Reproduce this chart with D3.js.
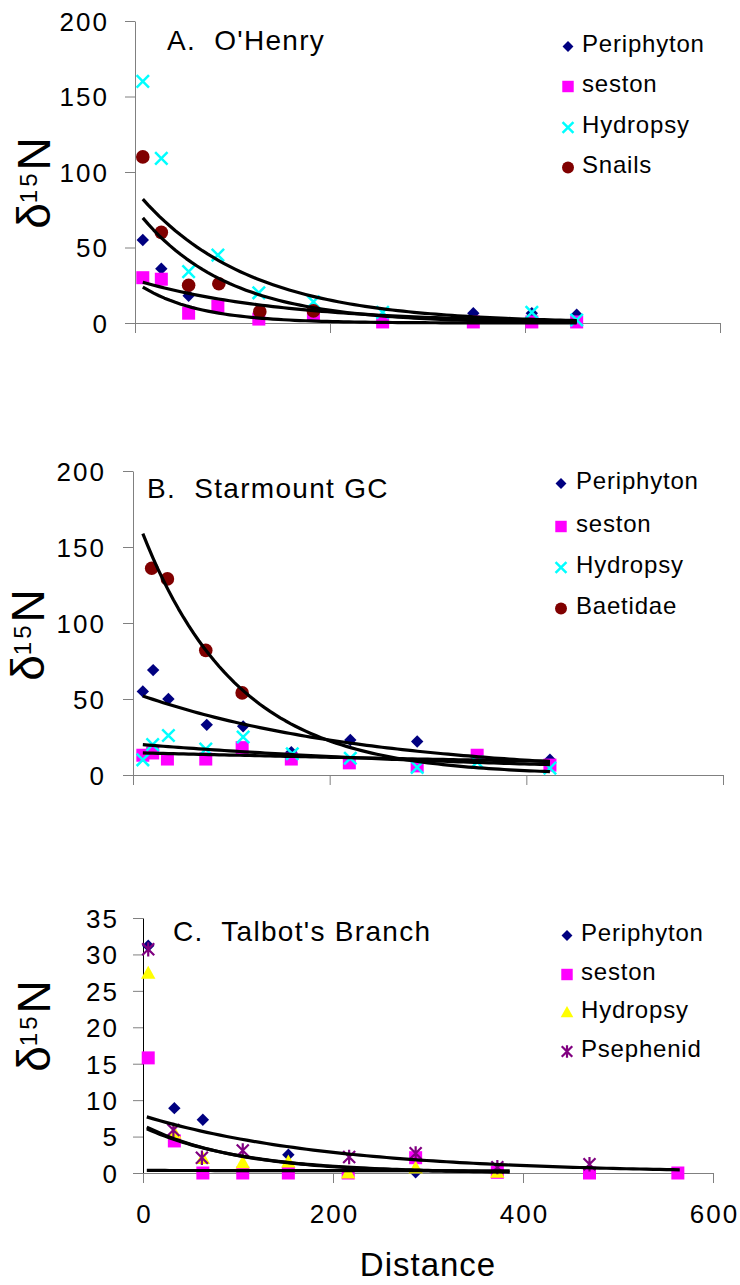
<!DOCTYPE html>
<html><head><meta charset="utf-8">
<script src="https://cdn.jsdelivr.net/npm/d3@7"></script>
<style>
body{margin:0;background:#fff}
svg{display:block}
text{font-family:"Liberation Sans",Arial,sans-serif;fill:#000}
</style>
</head><body>
<svg id="chart" width="740" height="1285"></svg>
<script>
// ---------- tick labels ----------
const distanceTicks = [0, 200, 400, 600];
const yTicksAB = [0, 50, 100, 150, 200];
const yTicksC = [0, 5, 10, 15, 20, 25, 30, 35];

// ---------- Panel A: O'Henry ----------
const periphytonA = [[8,55],[27,36],[55,18],[347,6.5],[407,6.5],[453,5.5]];
const sestonA     = [[8,30],[27,29],[55,6.5],[85,11],[127,2.6],[183,5.3],[254,0.7],[347,0.7],[407,0.7],[453,0.7]];
const hydropsyA   = [[8,160],[27,109],[55,34],[85,45],[127,20],[183,14],[254,7],[407,7],[453,2]];
const snailsA     = [[8,110],[27,60],[55,25],[86,26],[128,7.5],[183,8]];
// exponential trend lines: [a, b, fromX, toX]  (y = a*exp(-b*x))
const trendA = [[88,0.0088,8,453],[76,0.011,8,453],[28.5,0.0068,8,453],[27.2,0.0166,8,453]];

// ---------- Panel B: Starmount GC ----------
const periphytonB = [[10,55],[20.5,69],[36,50],[75,33],[112,32],[161,15],[221,23],[289,22],[424,10]];
const sestonB     = [[10,13],[20,14.5],[35,10.5],[74,10.5],[111,18],[161,10.5],[220,8],[289,6],[350,13],[424,6.5]];
const hydropsyB   = [[10,10],[20,20],[36,26],[74,17],[112,25],[162,14],[221,11],[289,5],[350,8.5],[424,4.5]];
const baetidaeB   = [[19,136],[35,129],[74,82],[111,54]];
const trendB = [[176,0.0103,10,424],[54.3,0.0043,10,424],[20.5,0.0026,10,424],[14.7,0.00115,10,424]];

// ---------- Panel C: Talbot's Branch ----------
const periphytonC = [[5.5,31.2],[33,8.9],[63,7.3],[153,2.5],[287,0.1]];
const sestonC     = [[5.5,15.8],[33,4.4],[63,0],[105,0],[153,0],[216,0],[287,2.1],[373,0.1],[470,0],[563,0]];
const hydropsyC   = [[5.5,27.4],[33,5.5],[63,2],[105,1.4],[153,1.5],[216,0],[287,0.7],[373,0.1]];
const psephenidC  = [[5.5,30.7],[32,5.9],[62,2.1],[105,3.1],[217,2.2],[287,2.7],[373,0.8],[470,1.2]];
const trendC = [[7.86,0.0051,4,565],[6.56,0.0101,4,386],[6.3,0.0096,4,380],[0.35,0.0004,4,386]];

// ---------- styles ----------
const colors = {periphyton:"#000080", seston:"#FF00FF", hydropsy:"#00FFFF", hydropsyC:"#FFFF00", dark:"#800000", purple:"#800080"};

const panels = [
  {title:"A.  O'Henry", yMax:200, yTicks:yTicksAB, xLabels:false,
   left:135, right:720, top:21, bottom:323, pad:16, yAxisColor:"#808080",
   titleX:167, titleY:50, legMX:568, legTX:582, legBase:[52,92,133,173], ylabX:50, ylabY:183,
   trends:trendA,
   series:[
     {name:"Periphyton", data:periphytonA, shape:"diamond", color:colors.periphyton},
     {name:"seston", data:sestonA, shape:"square", color:colors.seston},
     {name:"Hydropsy", data:hydropsyA, shape:"cross", color:colors.hydropsy},
     {name:"Snails", data:snailsA, shape:"circle", color:colors.dark}]},
  {title:"B.  Starmount GC", yMax:200, yTicks:yTicksAB, xLabels:false,
   left:133, right:723, top:471, bottom:775, pad:17, yAxisColor:"#808080",
   titleX:147, titleY:498, legMX:561, legTX:576, legBase:[489,532,573,614], ylabX:44, ylabY:635,
   trends:trendB,
   series:[
     {name:"Periphyton", data:periphytonB, shape:"diamond", color:colors.periphyton},
     {name:"seston", data:sestonB, shape:"square", color:colors.seston},
     {name:"Hydropsy", data:hydropsyB, shape:"cross", color:colors.hydropsy},
     {name:"Baetidae", data:baetidaeB, shape:"circle", color:colors.dark}]},
  {title:"C.  Talbot's Branch", yMax:35, yTicks:yTicksC, xLabels:true,
   left:143, right:713, top:918, bottom:1173, pad:14, yAxisColor:"#000000",
   titleX:173, titleY:941, legMX:567, legTX:581, legBase:[941,980,1018,1057], ylabX:50, ylabY:1026,
   trends:trendC,
   series:[
     {name:"Periphyton", data:periphytonC, shape:"diamond", color:colors.periphyton},
     {name:"seston", data:sestonC, shape:"square", color:colors.seston},
     {name:"Hydropsy", data:hydropsyC, shape:"triangle", color:colors.hydropsyC},
     {name:"Psephenid", data:psephenidC, shape:"asterisk", color:colors.purple}]}
];

const svg = d3.select("#chart");

function drawMarker(g, shape, color, cx, cy, k) {
  const m = g.append("g").attr("transform", `translate(${cx},${cy})`);
  if (shape === "diamond") {
    const h = 6.2*k;
    m.append("path").attr("d", `M0,${-h}L${h},0L0,${h}L${-h},0Z`).attr("fill", color);
  } else if (shape === "square") {
    const s = 13*k;
    m.append("rect").attr("x", -s/2).attr("y", -s/2).attr("width", s).attr("height", s).attr("fill", color);
  } else if (shape === "circle") {
    m.append("circle").attr("r", 6.8*k).attr("fill", color);
  } else if (shape === "cross") {
    const h = 6.2*k;
    m.append("path").attr("d", `M${-h},${-h}L${h},${h}M${-h},${h}L${h},${-h}`)
      .attr("stroke", color).attr("stroke-width", 2.5).attr("fill", "none");
  } else if (shape === "triangle") {
    const w = 7.2*k, t = 7.5*k, b = 5.5*k;
    m.append("path").attr("d", `M0,${-t}L${w},${b}L${-w},${b}Z`).attr("fill", color);
  } else if (shape === "asterisk") {
    const h = 6*k;
    m.append("path").attr("d", `M${-h},${-h}L${h},${h}M${-h},${h}L${h},${-h}M0,${-h*1.2}L0,${h*1.2}`)
      .attr("stroke", color).attr("stroke-width", 2.2).attr("fill", "none");
  }
}

panels.forEach(p => {
  const g = svg.append("g");
  const x = d3.scaleLinear().domain([0, 600]).range([p.left, p.right]);
  const y = d3.scaleLinear().domain([0, p.yMax]).range([p.bottom, p.top]);

  // y axis
  const ya = g.append("g").attr("transform", `translate(${p.left},0)`)
    .call(d3.axisLeft(y).tickValues(p.yTicks).tickSize(10).tickSizeOuter(0).tickPadding(p.pad));
  ya.attr("font-size", null).attr("font-family", null);
  ya.select(".domain").attr("stroke", p.yAxisColor).attr("stroke-width", 1);
  ya.selectAll(".tick line").attr("stroke", "#808080");
  ya.selectAll(".tick text").style("font-size", "26px").style("letter-spacing", "2px").attr("dy", "0.36em");

  // x axis
  const xa = g.append("g").attr("transform", `translate(0,${p.bottom})`)
    .call(d3.axisBottom(x).tickValues(distanceTicks).tickSize(10).tickSizeOuter(0).tickPadding(22)
      .tickFormat(p.xLabels ? d3.format("d") : () => ""));
  xa.attr("font-size", null).attr("font-family", null);
  xa.select(".domain").attr("stroke", "#808080");
  xa.selectAll(".tick line").attr("stroke", "#808080");
  xa.selectAll(".tick text").style("font-size", "26px").style("letter-spacing", "2px").attr("dx", "1");

  // markers
  p.series.forEach(s => {
    const mg = g.append("g");
    s.data.forEach(d => drawMarker(mg, s.shape, s.color, x(d[0]), y(d[1]), 1));
  });

  // trend lines
  const line = d3.line().x(d => x(d[0])).y(d => y(d[1]));
  p.trends.forEach(t => {
    const [a, b, x0, x1] = t;
    const n = 80;
    const pts = d3.range(n + 1).map(i => {
      const xv = x0 + (x1 - x0) * i / n;
      return [xv, a * Math.exp(-b * xv)];
    });
    g.append("path").attr("d", line(pts)).attr("fill", "none")
      .attr("stroke", "#000").attr("stroke-width", 3.2).attr("stroke-linejoin", "round");
  });

  // title
  g.append("text").attr("x", p.titleX).attr("y", p.titleY)
    .style("font-size", "28px").style("letter-spacing", "1.3px").style("white-space", "pre")
    .text(p.title);

  // legend
  p.series.forEach((s, i) => {
    const base = p.legBase[i];
    drawMarker(g, s.shape, s.color, p.legMX, base - 5.5, 0.88);
    g.append("text").attr("x", p.legTX).attr("y", base)
      .style("font-size", "24px").style("letter-spacing", "0.8px").text(s.name);
  });

  // y axis label
  const yl = g.append("text")
    .attr("transform", `translate(${p.ylabX},${p.ylabY}) rotate(-90)`)
    .attr("text-anchor", "middle").style("font-size", "46px");
  yl.append("tspan").text("δ");
  yl.append("tspan").attr("dy", -13).style("font-size", "24px").style("letter-spacing", "3px").text("15");
  yl.append("tspan").attr("dy", 13).style("font-size", "46px").text("N");
});

// x axis title
svg.append("text").attr("x", 428).attr("y", 1276).attr("text-anchor", "middle")
  .style("font-size", "33px").style("letter-spacing", "1px").text("Distance");
</script>
</body></html>
